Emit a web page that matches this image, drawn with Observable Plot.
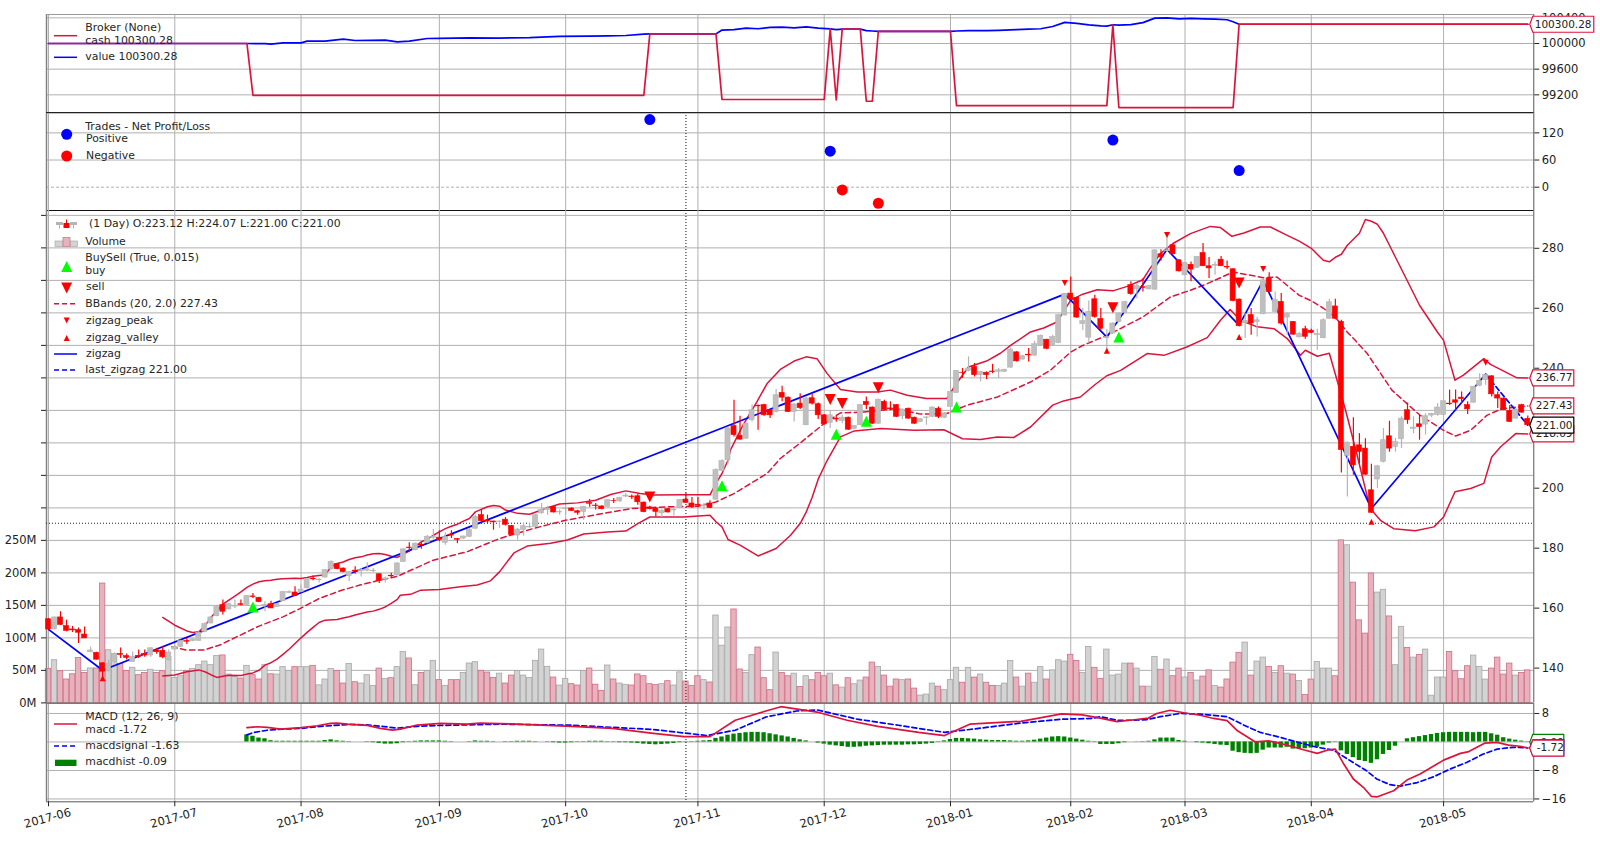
<!DOCTYPE html>
<html><head><meta charset="utf-8">
<script src="https://cdn.jsdelivr.net/npm/d3@7"></script>
<script src="https://cdn.jsdelivr.net/npm/@observablehq/plot@0.6"></script>
<style>
html,body{margin:0;padding:0;background:#fff;width:1600px;height:843px;overflow:hidden;font-family:"DejaVu Sans",sans-serif}
#chart{position:relative;width:1600px;height:843px;color:#222}
.lg{position:absolute;white-space:nowrap;line-height:1;transform:translateY(-50%);font-size:10.9px;color:#262626}
</style></head><body><div id="chart"></div>
<script>
const monthTicks=[0,21,42,65,86,108,129,150,170,189,210,232];
const monthLabels=["2017-06","2017-07","2017-08","2017-09","2017-10","2017-11","2017-12","2018-01","2018-02","2018-03","2018-04","2018-05"];
const opens=[156.3,152.9,156.9,154,152.9,152.7,151.2,145.3,145.1,141.6,
139,142.1,144.7,144,142.1,144.1,144.7,144.2,145.9,145.8,
142.7,146.2,147.1,149,149,149.1,152.1,154.9,157.3,161,
159.6,160.5,161.3,161,163.9,163.4,160.8,161.3,160.4,162.3,
165.1,165.2,165.3,166.6,169.7,169.3,170.2,172.9,174.7,173.2,
170.7,172.5,172.3,172.5,172.3,171.3,169.5,170.8,170.9,175.4,
180.2,179.3,181.1,181.8,183.5,183.5,181.8,184.4,183,183.2,
183.8,186.5,191,189.2,188.9,188.7,189.5,187.4,184.2,186,
186.9,187.1,191.6,192.7,193.7,191.9,193,193.2,192.3,192.1,
195,194.2,193.9,193.8,195.8,195.6,197.2,197.2,197.3,195.2,
193.6,193.2,191.6,193,192.6,193.4,196.2,194.9,194.5,194,
194.9,196.2,205.8,209.3,220.7,217.5,216.5,222.7,227.5,227.7,
226,225.4,231.8,230.2,225.4,228.2,221,230,228,224.3,
221.8,223.2,222.4,223.5,219.8,221,228.8,226.9,221.5,228.8,
226.6,227.7,224,226.5,223.5,222.1,223.4,223.8,226.5,223.5,
227.1,231.8,238.5,239.1,240.4,237.7,238.5,238.9,238.8,238.8,
240.2,245.3,242.9,244.5,244.2,247.7,249.5,247.7,248.4,257.6,
264.9,263.5,254.7,250.2,263,256.4,250,251.6,255.4,258.4,
267.7,266.3,267,266.3,266.2,278,279,281,276,271,
274.5,273.5,278.4,274,274.2,276.2,273.8,273,262.9,255,
257.7,255.4,258,269.9,258.8,262.1,256.9,255.4,250.3,253,
252.5,251,250,256.5,260.6,255.5,210.8,213.8,214.3,213.2,
199.3,202.9,208.8,217.3,213.8,216.3,226,219.8,221.3,221.2,
224.2,224.4,224.4,228.2,229.3,230.2,227.7,228.5,234.1,236,
237.3,231,229.9,225.8,223.2,227.7,223.12];
const highs=[156.5,157,158.8,156,153.9,153.4,153.7,147,145.3,141.8,
142.7,145.1,146.7,144.7,145.4,146,146,146.9,146.6,147.1,
146,147.7,149.3,149.9,149.8,152.1,155.1,157.1,161,162.7,
161.6,162.7,162.7,164.2,164.9,163.6,162.1,162.3,161.5,165.6,
165.8,167.1,167.7,169.8,170.7,169.9,172.9,175.8,174.9,173.4,
172.2,173.8,173.2,175.1,173.2,171.5,170.4,171.6,175.1,179.8,
181.8,181.7,181.8,184.3,186.2,185.8,185.1,185.8,183.2,184,
186.5,191,192.6,191,189,189.1,190.2,187.6,186.6,188.2,
188.2,191.2,194.9,194,193.9,192.7,193.8,193.5,192.6,193.9,
196.2,194.9,194.1,196.2,196.6,197,198.2,197.7,198,195.4,
194,193.4,192.9,193.2,193.4,196.2,198.2,196.9,196.9,194.9,
195.8,206.5,209.5,220.4,229.3,224,221.8,227.7,227.7,228,
226.2,232.9,234,230.4,228.2,231.5,230.4,231.5,228.4,224.6,
225.8,224.3,224.3,223.7,220.9,227.9,230.4,227.1,229.7,229.3,
228.8,227.9,226.4,226.7,223.7,223.2,223.8,227.1,227.1,225.1,
232.3,239.3,239.9,243.8,241.6,239,238.8,241.3,239.9,239.7,
246.7,245.5,244.3,246.6,248.9,251.1,249.7,251,258,264.9,
270.4,263.7,259.9,262.4,264.3,259.9,252.9,255.2,258.4,262.3,
268.8,268.2,269.9,267.7,279.5,279.5,285.1,281.2,276.2,275.3,
275.4,277.3,281.6,276.9,275.4,277.3,275.8,273.2,263.1,258.2,
259.9,257,269.6,271.8,265.4,264.9,258.4,255.6,252,254,
253,253,256.5,263,263,256,215.4,223.5,218.2,216.5,
208,207.6,219.9,222.3,216.6,223.8,228.4,223.8,224.3,224.8,
225,228.2,229.2,232.7,232.7,232.1,228.8,234,238.2,238,
237.5,232.1,230.1,227.6,226.4,228,224.07];
const lows=[152.7,152.7,154.2,152.1,151.9,148.2,149.9,145.1,142.7,136,
138.7,141.5,143.2,142.7,141.9,143.2,143.6,143.6,144.6,143.1,
142.4,146,146.9,147.9,148.8,148.9,151.8,154.7,157.1,157.7,
159.3,159.9,160.7,160.8,163.2,161.8,158.8,159.9,160.2,162.1,
164.8,163.8,165.1,166.4,169.1,168.4,170,172.7,172.8,171.8,
168.8,171.3,170.4,172.1,171.8,168.2,168.4,169.9,170.7,175.2,
179,179.1,179.6,181.5,182.7,182.1,181,183.2,181.5,182.9,
183.5,186.2,188.4,188.2,186,186.6,187.4,184.2,182.7,184,
186.6,186.9,191.3,191,191.7,191,191,192.2,191,189.3,
193.6,192.7,192.8,193.6,194.9,195.2,196.9,196.2,194.3,191.8,
192.7,190.4,190.2,191.7,190.7,193.2,194.9,193.2,193.5,192.7,
193.2,195.8,205.5,208,217.1,216,216.2,222.1,219.3,224,
223.2,225.1,228.8,225.2,222.1,226.2,220.8,227.7,222.9,221,
219.9,222,221.5,219.2,219.5,220.8,226.2,221.3,221.3,225.8,
225.8,223.6,222.9,223,221.3,221.9,221,223.6,223.2,223.2,
226.9,231.6,236.6,238.8,237.1,235.4,236.2,238.2,236.6,238.6,
240,242.1,242.7,242.1,244,247.5,246.2,247.4,248.2,257.4,
262.7,256.7,252.6,248.4,256.7,252.6,245.4,251.4,255.2,258.2,
264.3,263.2,265.4,266.1,266,275.7,278.8,277.8,272.1,270.8,
268.8,273.3,274,269.9,271,274,272.9,262.2,253.8,249.9,
251,250.4,257.8,264.9,258.4,254.3,251,251,250.1,249.7,
251.5,246,249.8,256.3,256.2,205.1,197.1,204.3,208,204.3,
191.6,199.9,208.4,212,212,213.2,221.3,218.2,216,217.7,
223.5,224,224.2,227.6,226,228.2,224.6,228.3,233.8,234.3,
230.4,226.6,226,221.9,223,225,221];
const closes=[152.9,156.9,154.4,152.4,152.6,151.8,149.9,145.9,142.8,138.8,
141.3,144.7,144.4,143.4,143.8,143.8,144.2,146.6,145.3,143.6,
145.2,147,149,148.8,149.6,151.8,154.7,156.9,160.4,158.8,
161.3,160.8,161.1,164,163.7,162,161,159.9,161.3,165.4,
165.4,164,166.2,169.6,169.6,169.5,172.7,175.4,173,172,
172,172.3,172.7,172.9,172.5,169,169.9,170.6,174.9,179.6,
180,181.5,180.9,183.8,183.8,182.7,183.8,184.2,182.8,183.9,
186,190.4,189,188.9,188.6,188.9,187.8,184.4,186.2,187.3,
187.1,191,192.7,193.2,191.9,192.1,193.2,192.4,191.8,193.7,
194.8,194,193,196,195.7,196.8,197.5,197,195.3,192,
193,192.1,192.4,191.9,192.8,196,195.1,193.6,194.2,194.3,
193.4,206,209,219.9,217.7,216.2,221.5,226,227.3,224.3,
224.3,231,230.2,225.4,227.9,226.7,229.9,228.2,224.3,221.3,
224.3,222.9,223.5,219.5,220.7,227.7,227.7,221.5,229.5,226.2,
226.3,223.8,226.2,223.2,221.5,223,223.6,226.9,223.8,224.9,
232.1,239.1,238.4,239.9,237.7,238.8,237.7,238.7,239.3,239.5,
246.2,242.3,244,244.3,248,250.8,246.5,250.4,257.7,264.7,
263,256.9,255.7,258.8,257.1,253.2,250.4,254.9,258.2,262.1,
264.7,267.4,266.8,267.4,279.3,277,279.3,278,272.3,275.1,
272.9,277.1,274,273.3,274.5,274,273.6,262.4,254,255.8,
254.9,256,269.3,265.4,262.7,254.9,258.2,251.2,251.4,250.5,
251.8,251.4,256,262,256.5,212.7,215.2,207.6,212.1,204.5,
191.8,207.3,216,213.2,215.4,223.2,222.7,220.2,220.4,224,
224.8,226.9,229,228,228.5,229.7,226.3,233.8,235.8,237.7,
231.3,229.9,226,222.1,226.2,225.2,221];
const volumes=[52,65.6,48.7,36,44,69,46,53,53,183.6,
81,75,60,49,54,42.6,46,51,46,48.7,
70.8,38.5,41,48.7,52,58,63.6,58,72,73,
43.6,40,37.5,57,42.6,36,58,44,43.6,55,
49,55,55,55,57,27,36,52,49,29.8,
60,31.8,29.8,42.6,26,52.8,37,38,55,78.5,
68.3,27.3,46,49,64.7,35,26.2,35,35,46,
60.6,62.6,49.3,46.7,38.5,45,29.8,42,49,42,
38.5,64.7,82,55.5,39,26.7,37,28.8,26.7,49,
52.9,28,18.5,57.5,36,29.8,27.8,26.7,43.7,41,
28.8,27.3,28.8,33.4,26.7,47,32.9,26.2,41,35,
31.4,134.4,88,116,143.7,51.4,46.2,73.4,85.2,38,
19.6,77.5,46,41,45,24.6,41,34.9,46,41,
45,27,23.6,38,28.7,34.4,39,62,55.4,42,
25,36,35,36,22,11.3,12.8,29.7,25,19.5,
35,54,31,54,39,43.6,31,26,26,29.7,
64.6,39,25,45,31,55,36,50,65.6,63.6,
74,64.6,46,86,54,37,82,42,43.6,60.5,
60.5,52.8,25,25,70.8,51,66.7,41,52.8,39,
46,34.4,40.5,50,26,23.6,36,62,77,92.8,
42,63.6,69.7,55.4,46,56.4,45,43.6,33.8,12,
35.9,63,52.8,52.8,41,250,242.5,185,127,106.6,
199,169.7,174,133,58,117,84.6,69.7,73.8,82,
11,39,39,78.4,48.7,36.4,56.4,72.8,55.4,35.9,
52.8,69.7,43.6,60.5,42,46,50];
const bbTop=[[19,156.9],[21,154.3],[23,152.4],[24,151.9],[25,152.1],[26,154],[27,156.9],[29,161.3],[30,162.7],[31,164],[32,165.4],[33,166.9],[34,168],[35,168.8],[36,169.1],[37,169.3],[38,169.6],[39,169.8],[41,170],[42,169.9],[43,170.2],[44,170.6],[45,170.9],[46,171.1],[47,173.8],[48,174.9],[49,175.4],[50,176.2],[51,176.8],[52,177.1],[53,177.7],[54,178.1],[55,178.2],[56,177.9],[57,177.3],[58,176.9],[59,178],[60,179],[61,180.5],[62,182.1],[63,183],[64,184.3],[65,185.4],[66,186.5],[67,187.3],[68,188],[69,189],[70,189.9],[71,192.1],[73,193.8],[74,194.2],[75,194],[76,192.7],[78,191.6],[80,191.3],[82,192.7],[83,193.5],[85,194.7],[88,195.1],[91,196],[93.5,197.9],[96,199.1],[98.4,198.2],[100.6,197.7],[105.6,197.8],[110,197.8],[111,201.6],[112,204.9],[113,209.3],[113.4,212.7],[115.5,221],[117.8,228.8],[119.5,234.9],[121.7,239.6],[124,242.4],[126,243.8],[127.8,243.2],[129.5,238.2],[131.7,232.9],[134.5,232.1],[137.8,232.1],[140,232.7],[142.8,231],[146,229.9],[149.4,229.9],[151,234.9],[153,240.4],[156,242.4],[158.3,245],[160,247.6],[163.3,252.1],[165.5,253.4],[167.7,255.4],[170,262.7],[172,264.7],[174.4,266.2],[177,265.8],[179.4,267.3],[182,269.5],[183,272.7],[184.9,278.2],[187,281.6],[189.9,284.9],[193.2,287.3],[194.9,286.9],[196.8,284],[198.8,285.1],[201.5,287.1],[203.2,287.1],[206,284.3],[208,282.4],[210,280],[212,276],[213,275.5],[214,277],[215,278],[216,281],[217,283],[218,285],[219,289.6],[220,289],[221,288],[222,285],[223,281],[224,277],[225,273],[226,269],[227,265],[228,261],[229,258],[230,255],[231,252],[232,249.3],[233.9,236],[235.3,237.7],[238.7,243.2],[239.8,241.3],[244.2,236.8],[246,236.77]];
const bbMid=[[20.5,147.1],[23,146],[25.8,146],[28.5,147.7],[31.9,151],[35,154],[39,157.1],[41.9,159.9],[45,163.2],[48.5,165.8],[51.8,167.7],[55,169.3],[58,170.6],[64,176],[69.6,178.8],[75,183.2],[80.7,186.6],[86,189.3],[92,191.5],[97,193.2],[103,193.8],[108,194],[111,195.4],[114,198.2],[119.5,204.9],[121.7,209.9],[125.6,216],[129,221.6],[131.7,225.1],[135.6,225.4],[141,226.5],[145,224.7],[149.4,224.9],[152.8,227.7],[157.8,230.4],[163.3,235.4],[166.6,239.3],[170,245.4],[172,247.6],[176.6,251.5],[182,257.1],[186.6,263.8],[189.9,266],[192.7,268.2],[197,272.1],[202,270.2],[204.3,270.4],[208,264.3],[210,262.5],[212,260],[214,257],[216,252],[217.3,249.3],[219.3,244.9],[223.4,232.7],[228.1,224.3],[232,219.3],[234,217.4],[236.5,219.3],[239.2,224.3],[241.7,226.5],[246,227.43]];
const bbBot=[[19,137.4],[21,137.7],[23,138.8],[25,139.4],[26,138.8],[27,137.8],[28,136.9],[29,137.3],[30,137.6],[32,137.5],[33,138],[34,138.4],[35,139.3],[36,141],[37,141.8],[38,143],[39,144.6],[40,146.3],[41,148.2],[42,150.1],[43,151.9],[44,153.6],[45,155.2],[46,156],[48,156.2],[49,156.7],[50,157.1],[51,157.7],[52,158.2],[53,158.7],[54,159],[55,159.6],[56,160.4],[57,161.6],[58,162.9],[58.5,164.3],[60.2,164.6],[61.9,166],[65,166.2],[68.5,167.1],[71.3,167.7],[73.5,169.1],[75,172.1],[77.4,178.4],[79.6,180.7],[83.5,181.6],[86.3,182.7],[89,184.7],[93,185.4],[96,185.7],[98,188.2],[100,190.4],[105.6,190.4],[110,191],[111,188.8],[112,187.1],[113,182.9],[115,181],[118,177.4],[121,179.9],[123.4,184.3],[125,188.2],[126,192],[127,197],[128,203],[129.5,209.3],[131.7,217.1],[134,219.1],[138.4,219.9],[143.9,219.3],[148.9,219.5],[152,216.5],[155,216.2],[157.8,217.1],[160.5,216.9],[163.3,220.4],[167,227.7],[168.8,229.1],[171.6,230.4],[174,234.5],[176,237.5],[178.3,239.3],[182.7,244.9],[185.5,244.3],[189.3,247.1],[192.7,250.2],[194.9,256],[196.5,259.6],[198.2,256],[201,253.8],[203.8,253.2],[206,249.9],[208.2,244.3],[209,246],[211,244],[213,245],[214,238],[215.7,226],[217.5,212],[219.8,193.2],[221.5,189.3],[223.7,186.5],[227.3,185.8],[230.4,187.1],[232,190.4],[233.9,198.8],[236.5,199.9],[238.7,201.6],[240,210.4],[241.5,213.8],[244,218.2],[246,218.09]];
const zigzag=[[0,152.9],[9,139.3],[169,264.7],[176,250.4],[186,279.6],[198,254.3],[202,269.3],[220,193.2],[239,238]];
const lastZigzag=[[239,238],[246,221]];
const zzPeaks=[[169,268.4],[186,284.4],[202,273.1],[239,241.8]];
const zzValleys=[[9,136.6],[176,245.8],[198,250.4],[220,188.8]];
const buys=[[34,160.4],[112,200.8],[131,218],[136,222.3],[151,227.1],[178,250.4]];
const sells=[[100,197.1],[130,229.6],[132,228.2],[138,233.5],[177,260.2],[198,268.4]];
const tradeWins=[[100,149.5],[130,79.6],[177,104],[198,36.7]];
const tradeLosses=[[132,-6],[138,-35.5]];
const cashLine=[[0,100000],[33,100000],[34,99191],[99,99191],[100,100149.5],[111,100149.5],[112,99127],[129,99127],[130,100229],[131,99120],[132,100223],[135,100223],[136,99100],[137,99100],[138,100187.5],[150,100187.5],[151,99032],[176,99032],[177,100292],[178,99002],[197,99002],[198,100300.28],[246,100300.28]];
const valueLine=[[0,100000],[33,100000],[36,99997],[37,99989],[39,100010],[42,100010],[43,100036],[46,100036],[49,100067],[51,100047],[56,100052],[58,100026],[60,100036],[63,100078],[65,100080],[70,100088],[75,100085],[80,100092],[85,100110],[90,100115],[93,100118],[96,100125],[99,100145],[100,100149.5],[111,100149.5],[112,100210],[114,100215],[116,100240],[118,100230],[120,100250],[122,100255],[124,100245],[126,100260],[128,100240],[130,100229],[131,100215],[132,100223],[135,100223],[136,100200],[137,100195],[138,100187.5],[150,100187.5],[151,100195],[153,100200],[156,100200],[158,100205],[161,100215],[163,100225],[165,100230],[167,100265],[169,100330],[171,100315],[173,100290],[175,100275],[176,100270],[177,100292],[178,100285],[180,100295],[182,100325],[184,100395],[186,100400],[188,100385],[190,100392],[192,100385],[194,100380],[196,100370],[197,100340],[198,100300.28],[246,100300.28]];
const macdLine=[[33,4],[34.7,4.27],[36.4,4.1],[38.6,3.6],[42,4],[44.7,4.55],[46.9,5.2],[48,5.3],[49.7,5],[53,4.65],[55.2,3.8],[57.2,3.3],[58.5,3.6],[61.3,4.75],[65.2,5.2],[69.6,5],[71.8,5.3],[76.9,5.1],[87,4.4],[93.8,3.8],[100.6,2.4],[105.7,1.5],[110,1.5],[114.2,6.1],[119.3,8.7],[121.8,9.9],[127.8,8.4],[132.8,6.1],[137.9,4.4],[144.7,2.7],[149,1.8],[153.2,5],[161.7,5.8],[168.5,7.9],[171.9,7.6],[174.9,6.7],[177.7,5.7],[179.9,6.1],[182.9,6.7],[184.3,8],[186.5,8.9],[188.8,8.2],[191.5,7.5],[193.8,6.6],[196,6],[197.6,3.3],[200.7,0],[202.9,0.3],[206,-0.9],[208.7,-2.2],[211,-3.2],[212.9,-2.2],[214,-2],[215.4,-6.2],[217,-10.4],[218.7,-12.8],[220,-15.3],[221,-15.4],[223.7,-13.7],[225.9,-10.7],[228.1,-9],[232,-5.1],[234.8,-3.2],[236.2,-2.7],[238.9,-0.3],[240.9,-0.1],[242.8,-0.9],[244.7,-1.2],[246,-1.72]];
const signalLine=[[33,2],[34.2,2.7],[36.4,3.3],[39,3.6],[42,3.8],[44.7,4.3],[47.5,4.65],[50.2,4.9],[53,4.8],[55.8,4.3],[58,3.9],[61.3,4.4],[65.2,4.65],[69.6,4.8],[75.2,5],[87,4.7],[100.6,3.5],[109.5,1.8],[114.2,3.3],[119.3,7],[124.4,8.7],[127.8,9],[134.5,6.4],[141.3,4.7],[149,2.7],[153.2,3.5],[161.7,5.3],[168.5,6.4],[173.6,6.6],[174.9,7.1],[177.7,6.1],[180.4,6.1],[182.7,6.3],[184.9,7.1],[188.2,8],[191.5,7.8],[196,7.1],[198.7,4.8],[201.5,2.7],[204.8,1.3],[208.2,-0.3],[211,-1.5],[213.7,-2.3],[216.5,-5.3],[219.2,-8.1],[220.9,-10.4],[223.1,-12],[224.8,-12.4],[227.6,-11.4],[230.3,-9.8],[233.1,-7.6],[235.9,-5.7],[238.6,-3.4],[240.9,-2],[243.6,-1.5],[246,-1.63]];
const histStart=33;
const histValues=[2,1.6,1.1,.9,.35,.2,.2,.2,.2,.2,
.2,.2,.2,.4,.6,.3,.2,.1,0,0,
-.1,-.2,-.4,-.6,-.6,-.5,-.2,.1,.2,.3,
.3,.3,.3,.2,.1,0,0,.1,.3,.2,
.2,.1,0,.1,.1,.2,.2,.2,.1,0,
-.1,-.2,-.3,-.3,-.2,-.1,.1,.2,.2,.2,
.1,-.1,-.2,-.2,-.3,-.4,-.6,-.7,-.8,-.7,
-.6,-.4,-.2,-.1,.1,.2,.3,.4,1,1.4,
1.9,2.2,2.4,2.6,2.7,2.7,2.6,2.3,2,1.7,
1.4,1,.6,.3,0,-.3,-.6,-.9,-1.1,-1.3,
-1.5,-1.5,-1.4,-1.2,-1.1,-1,-.9,-.9,-.9,-.9,
-.8,-.8,-.7,-.6,-.4,-.1,.3,.7,1,1,
.9,.8,.6,.5,.4,.4,.4,.3,.2,.2,
.3,.5,.8,1.1,1.4,1.5,1.4,1.1,.8,.5,
.2,-.1,-.7,-.7,-.7,-.5,-.2,0,.05,.1,
.2,.6,1.1,1.1,1.1,.4,.2,0,-.2,-.3,
-.5,-.7,-.9,-1,-2.6,-3,-3.2,-3.3,-3.2,-2.3,
-1.7,-1.7,-1.7,-1.5,-2,-1.9,-1.9,-1.7,-1.5,-.9,
-.3,.1,-2.5,-3.5,-4.4,-5.2,-5.5,-6,-5,-3.5,
-2.4,-1.2,0,.9,1.2,1.5,1.8,2.1,2.4,2.6,
2.7,2.7,2.7,2.7,2.6,2.7,2.7,2.3,1.9,1.2,
.8,.5,.25,-.09];
const brokerTicks=[100400,100000,99600,99200];
const tradeTicks=[120,60,0];
const priceTicks=[140,160,180,200,220,240,260,280];
const volumeTicks=[0,50,100,150,200,250,300,350,400,450,500,550,600,650,700,750];
const macdTicks=[8,0,-8,-16];
const dottedIndex=106, dottedPrice=188.3;

const GRID="#b0b0b0",CR="#dc143c",FS=11.5,TAGFS=10.5,LW=1.7;
const root=document.getElementById("chart");
const xDom=[-0.33,247];
const bars=opens.map((o,i)=>({i,o,h:highs[i],l:lows[i],c:closes[i],v:volumes[i]}));
const up=bars.filter(d=>d.c>=d.o),down=bars.filter(d=>d.c<d.o);
const hist=histValues.map((v,k)=>({i:histStart+k,v}));
const X=d=>d[0],Y=d=>d[1];
const triUp={draw(c,s){const r=Math.sqrt(s/Math.PI);c.moveTo(0,-r);c.lineTo(r,r);c.lineTo(-r,r);c.closePath();}};
const triDown={draw(c,s){const r=Math.sqrt(s/Math.PI);c.moveTo(0,r);c.lineTo(r,-r);c.lineTo(-r,-r);c.closePath();}};
const tagShape=w=>({draw(c){c.moveTo(-4,0);c.lineTo(-1,-8);c.lineTo(w,-8);c.lineTo(w,8);c.lineTo(-1,8);c.closePath();}});
const tag=(v,label,color,w,dx=1)=>[
  Plot.dot([[xDom[1],v]],{x:X,y:Y,symbol:tagShape(w),r:5,fill:"#fff",stroke:color,strokeWidth:1.2}),
  Plot.text([[xDom[1],v]],{x:X,y:Y,text:()=>label,textAnchor:"start",dx,fill:"#222",fontSize:TAGFS})
];
const axisR=(t,fmt)=>Plot.axisY(t,{anchor:"right",tickSize:5,tickPadding:3,label:null,fontSize:FS,color:"#222",tickFormat:fmt||(d=>d<0?"\u2212"+(-d):String(d))});
const gridX=Plot.gridX(monthTicks,{stroke:GRID,strokeOpacity:1,strokeWidth:1});
const vDotted=Plot.ruleX([dottedIndex],{stroke:"#222",strokeDasharray:"1,2",strokeWidth:1.1});
const spines=(dom,tc,bc)=>[
  Plot.ruleX([xDom[0]],{stroke:"#808080",strokeWidth:1.5}),
  Plot.ruleX([xDom[1]],{stroke:"#555",strokeWidth:1}),
  Plot.ruleY([dom[1]],{stroke:tc,strokeWidth:1}),
  Plot.ruleY([dom[0]],{stroke:bc,strokeWidth:1})
];
function panel(top,height,dom,marks){
  const p=Plot.plot({width:1600,height,marginLeft:46,marginRight:66.7,marginTop:0,marginBottom:0,
    x:{domain:xDom,axis:null},y:{domain:dom,axis:null},
    style:{position:"absolute",left:"0px",top:top+"px",overflow:"visible",background:"transparent",maxWidth:"none",fontFamily:"'DejaVu Sans',sans-serif",color:"#222"},
    marks});
  root.appendChild(p);return p;
}

/* Broker */
const brokerDom=[98920,100452];
panel(14,98.3,brokerDom,[
  gridX,Plot.gridY(brokerTicks,{stroke:GRID,strokeOpacity:1}),
  Plot.line(valueLine,{x:X,y:Y,stroke:"#0000ff",strokeWidth:LW}),
  Plot.line(cashLine,{x:X,y:Y,stroke:CR,strokeWidth:LW}),
  ...spines(brokerDom,"#999","#222"),
  axisR(brokerTicks),
  ...tag(100300.28,"100300.28",CR,60)
]);

/* Trades */
const tradeDom=[-51.5,165];
panel(112.3,98,tradeDom,[
  gridX,Plot.gridY(tradeTicks.filter(d=>d),{stroke:GRID,strokeOpacity:1}),
  Plot.ruleY([0],{stroke:GRID,strokeDasharray:"3,2"}),
  vDotted,
  Plot.dot(tradeWins,{x:X,y:Y,r:5.5,fill:"#0000ff"}),
  Plot.dot(tradeLosses,{x:X,y:Y,r:5.5,fill:"#ff0000"}),
  ...spines(tradeDom,"#222","#111"),
  axisR(tradeTicks)
]);

/* Volume */
const volDom=[0,757.5];
panel(210.3,492.4,volDom,[
  gridX,Plot.gridY(volumeTicks,{stroke:GRID,strokeOpacity:1}),
  Plot.rect(up,{x1:d=>d.i-.45,x2:d=>d.i+.45,y1:0,y2:"v",fill:"#d3d3d3",stroke:"#a6a6a6",strokeWidth:.8}),
  Plot.rect(down,{x1:d=>d.i-.45,x2:d=>d.i+.45,y1:0,y2:"v",fill:"#e8b2bd",stroke:"#cf6d85",strokeWidth:.8}),
  Plot.ruleY([0],{stroke:"#777",strokeWidth:1}),
  Plot.ruleX([xDom[0]],{stroke:"#808080",strokeWidth:1.5}),
  Plot.ruleX([xDom[1]],{stroke:"#555",strokeWidth:1}),
  Plot.axisY(volumeTicks,{anchor:"left",tickSize:5,tickPadding:5,label:null,fontSize:FS,color:"#222",tickFormat:d=>d<=250?d+"M":""})
]);

/* Price: lines sit under the candles, markers above them */
const priceDom=[128.4,292.6];
panel(210.3,492.4,priceDom,[
  Plot.ruleY([dottedPrice],{stroke:"#222",strokeDasharray:"1,2",strokeWidth:1.1}),
  vDotted,
  Plot.line(bbTop,{x:X,y:Y,stroke:CR,strokeWidth:LW-.2}),
  Plot.line(bbBot,{x:X,y:Y,stroke:CR,strokeWidth:LW-.2}),
  Plot.line(bbMid,{x:X,y:Y,stroke:CR,strokeWidth:LW-.2,strokeDasharray:"5.5,3.5"}),
  Plot.line(zigzag,{x:X,y:Y,stroke:"#0000ff",strokeWidth:LW}),
  Plot.line(lastZigzag,{x:X,y:Y,stroke:"#0000ff",strokeWidth:LW,strokeDasharray:"5,3"}),
  Plot.ruleX(up,{x:"i",y1:"l",y2:"h",stroke:"#b4b4b4",strokeWidth:1.2}),
  Plot.ruleX(down,{x:"i",y1:"l",y2:"h",stroke:"#ff0000",strokeWidth:1.2}),
  Plot.rect(up,{x1:d=>d.i-.42,x2:d=>d.i+.42,y1:"o",y2:"c",fill:"#bfbfbf",stroke:"#b4b4b4",strokeWidth:.6}),
  Plot.rect(down,{x1:d=>d.i-.42,x2:d=>d.i+.42,y1:"o",y2:"c",fill:"#ff0000",stroke:"#ff0000",strokeWidth:.6}),
  Plot.dot(zzPeaks,{x:X,y:Y,symbol:triDown,r:3,fill:"#ff0000"}),
  Plot.dot(zzValleys,{x:X,y:Y,symbol:triUp,r:3,fill:"#ff0000"}),
  Plot.dot(buys,{x:X,y:Y,symbol:triUp,r:5.5,fill:"#00ff00"}),
  Plot.dot(sells,{x:X,y:Y,symbol:triDown,r:5.5,fill:"#ff0000"}),
  axisR(priceTicks),
  ...tag(218.09,"218.09",CR,40,2),
  ...tag(227.43,"227.43",CR,40,2),
  ...tag(236.77,"236.77",CR,40,2),
  ...tag(221,"221.00","#000",40,2)
]);

/* MACD */
const macdDom=[-16.8,10.8];
panel(702.7,98.3,macdDom,[
  gridX,Plot.gridY(macdTicks,{stroke:GRID,strokeOpacity:1}),
  vDotted,
  Plot.rect(hist,{x1:d=>d.i-.36,x2:d=>d.i+.36,y1:0,y2:"v",fill:"#008000"}),
  Plot.line(signalLine,{x:X,y:Y,stroke:"#0000ff",strokeWidth:LW,strokeDasharray:"5,3"}),
  Plot.line(macdLine,{x:X,y:Y,stroke:CR,strokeWidth:LW}),
  ...spines(macdDom,"#777","#555"),
  axisR(macdTicks),
  Plot.axisX(monthTicks,{anchor:"bottom",tickSize:5,tickFormat:()=>"",label:null,color:"#222"}),
  Plot.text(monthTicks,{x:d=>d,text:(d,i)=>monthLabels[i],frameAnchor:"bottom",dy:20,rotate:-15,textAnchor:"middle",fontSize:FS,fill:"#222"}),
  ...tag(-0.09,"-0.09","#008000",30,3),
  ...tag(-1.63,"-1.63","#0000ff",30,3),
  ...tag(-1.72,"-1.72",CR,30,3)
]);

/* Legends */
const legendTexts=[
 ["Broker (None)",85.3,28],["cash 100300.28",85.3,40.7],["value 100300.28",85.3,57.3],
 ["Trades - Net Profit/Loss",85.3,127],["Positive",86,139],["Negative",86,155.7],
 ["(1 Day) O:223.12 H:224.07 L:221.00 C:221.00",89,224.3],["Volume",85.3,241.7],
 ["BuySell (True, 0.015)",85.3,257.7],["buy",85.3,271],["sell",86,287.3],
 ["BBands (20, 2.0) 227.43",85.3,303.7],["zigzag_peak",86,321],["zigzag_valley",86,337.7],
 ["zigzag",86,354],["last_zigzag 221.00",85.3,370],
 ["MACD (12, 26, 9)",85.3,716.7],["macd -1.72",85.3,730],["macdsignal -1.63",85.3,746],["macdhist -0.09",85.3,762.3]];
for(const [t,x,y] of legendTexts){const d=document.createElement("div");d.className="lg";d.textContent=t;d.style.left=x+"px";d.style.top=y+"px";root.appendChild(d);}
const sw=document.createElementNS("http://www.w3.org/2000/svg","svg");
sw.setAttribute("width",1600);sw.setAttribute("height",843);sw.style.cssText="position:absolute;left:0;top:0;pointer-events:none";
sw.innerHTML=`
<line x1="54" x2="77" y1="35.7" y2="35.7" stroke="${CR}" stroke-width="1.5"/>
<line x1="54" x2="77" y1="57.3" y2="57.3" stroke="#00f" stroke-width="1.5"/>
<circle cx="66.7" cy="134.3" r="5.5" fill="#00f"/><circle cx="66.7" cy="156" r="5.5" fill="#f00"/>
<path d="M56 222h7v3h-7zM59 225h1v3.5h-1zM70 222h7v3h-7zM73 225h1v3.5h-1z" fill="#b4b4b4"/><path d="M63.5 223h6v5h-6zM66 219.5h1v3.5h-1z" fill="#f00"/>
<rect x="55" y="241" width="8" height="5.5" fill="#d3d3d3" stroke="#aaa" stroke-width=".7"/><rect x="70" y="241" width="7.5" height="5.5" fill="#d3d3d3" stroke="#aaa" stroke-width=".7"/><rect x="63" y="237.5" width="7" height="9" fill="#e8b2bd" stroke="#cf6d85" stroke-width=".7"/>
<path d="M66.7 261l5.5 11h-11z" fill="#0f0"/><path d="M66.7 293.5l5.5-11h-11z" fill="#f00"/>
<line x1="54" x2="77" y1="303.7" y2="303.7" stroke="${CR}" stroke-width="1.5" stroke-dasharray="5,3"/>
<path d="M66.7 323.5l3-6h-6z" fill="#f00"/><path d="M66.7 335l3 6h-6z" fill="#f00"/>
<line x1="54" x2="77" y1="354" y2="354" stroke="#00f" stroke-width="1.5"/>
<line x1="54" x2="77" y1="370" y2="370" stroke="#00f" stroke-width="1.5" stroke-dasharray="5,3"/>
<line x1="54" x2="77" y1="724" y2="724" stroke="${CR}" stroke-width="1.5"/>
<line x1="54" x2="77" y1="746" y2="746" stroke="#00f" stroke-width="1.5" stroke-dasharray="5,3"/>
<rect x="55" y="759.7" width="21.5" height="6.3" fill="#008000"/>`;
root.appendChild(sw);
</script></body></html>
